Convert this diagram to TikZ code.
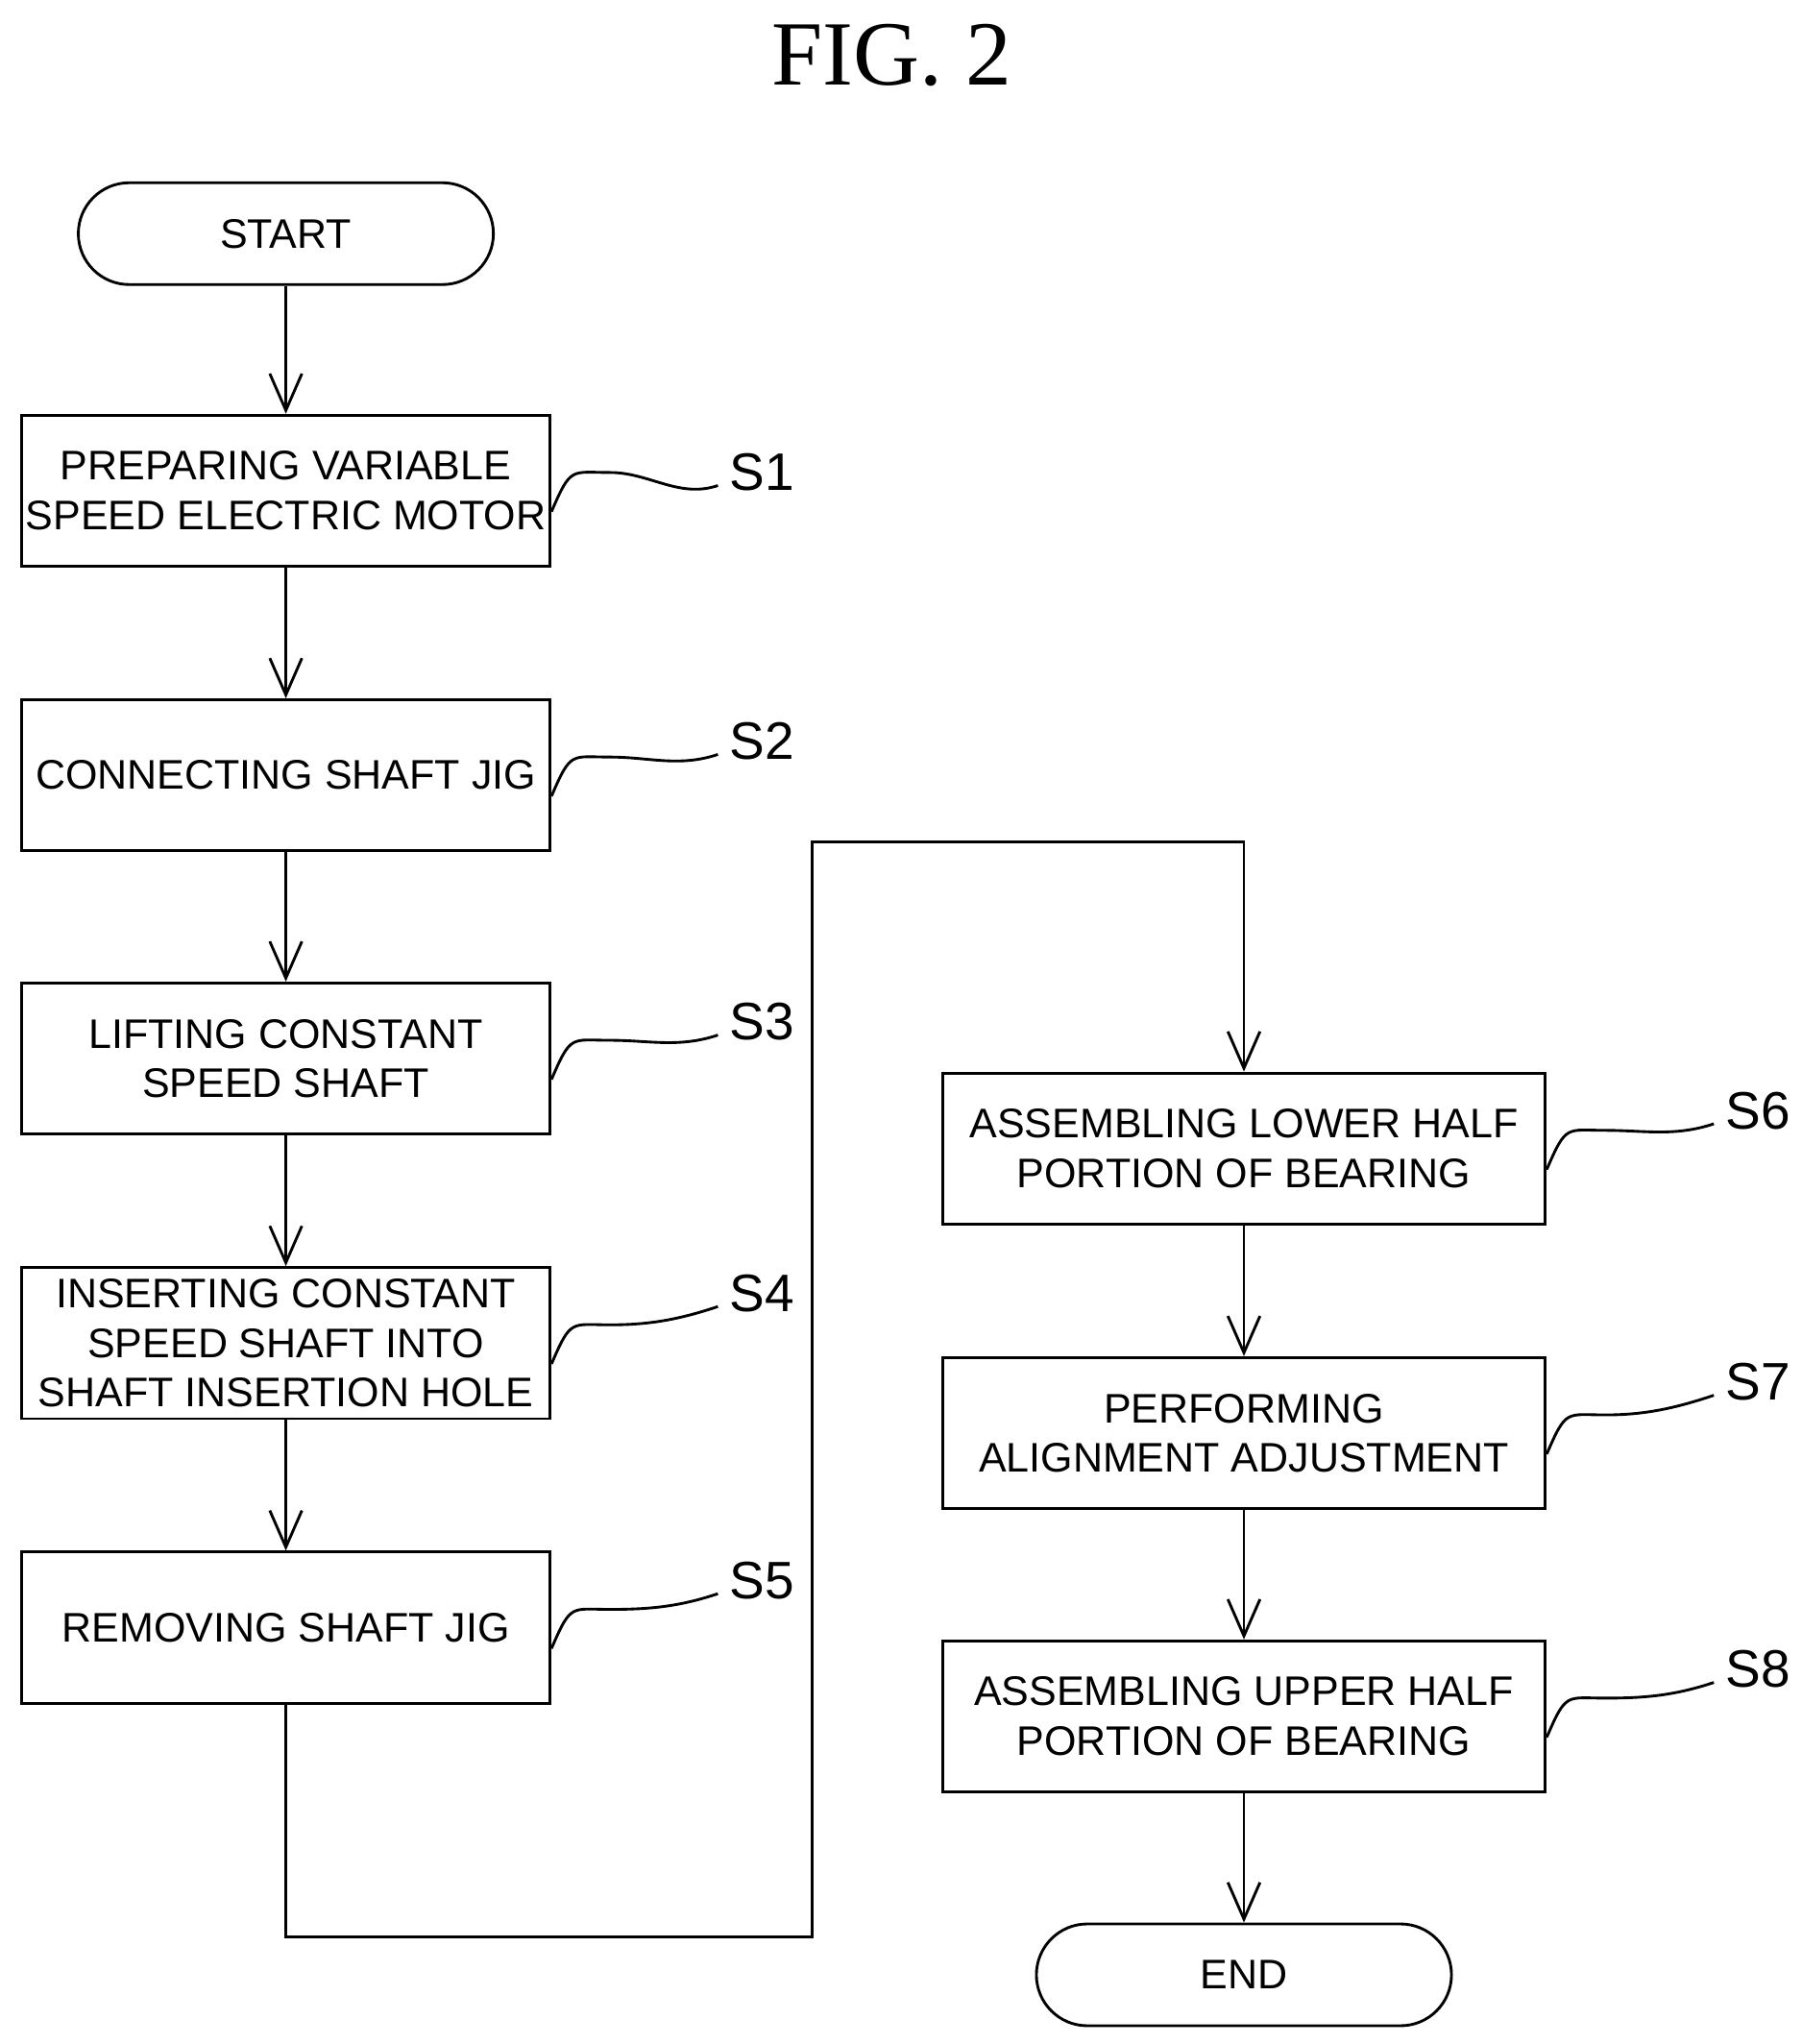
\documentclass[tikz,border=0pt]{standalone}
\usepackage{fontspec}
\setmainfont{Liberation Sans}
\newfontfamily\titlefont{Liberation Serif}
\usetikzlibrary{arrows.meta,calc}
\begin{document}
\begin{tikzpicture}[x=0.01cm,y=-0.01cm,line width=0.6pt,
 box/.style={draw,minimum width=407*0.01cm-0.6pt,minimum height=118*0.01cm-0.6pt,align=center,font=\fontsize{9}{10.8}\selectfont,inner sep=0pt},
 rbox/.style={box,minimum width=464*0.01cm-0.6pt},
 pill/.style={draw,rounded corners=39*0.01cm,minimum width=318*0.01cm,minimum height=78*0.01cm,font=\fontsize{9}{11}\selectfont},
 lab/.style={font=\fontsize{11.5}{14}\selectfont,anchor=west,inner sep=0pt},
 arr/.style={-{Straight Barb[length=8pt,width=7pt]}}]
\useasboundingbox (0,0) rectangle (1380,1566);
\node[font=\titlefont\fontsize{20}{24}\selectfont] (t) at (683,42) {FIG. 2};
\node[pill] (st) at (219,179) {START};
\node[box] (s1) at (219,376) {PREPARING VARIABLE\\SPEED ELECTRIC MOTOR};
\node[box] (s2) at (219,594) {CONNECTING SHAFT JIG};
\node[box] (s3) at (219,811) {LIFTING CONSTANT\\SPEED SHAFT};
\node[box] (s4) at (219,1029) {INSERTING CONSTANT\\SPEED SHAFT INTO\\SHAFT INSERTION HOLE};
\node[box] (s5) at (219,1247) {REMOVING SHAFT JIG};
\node[rbox] (s6) at (953,880) {ASSEMBLING LOWER HALF\\PORTION OF BEARING};
\node[rbox] (s7) at (953,1098) {PERFORMING\\ALIGNMENT ADJUSTMENT};
\node[rbox] (s8) at (953,1315) {ASSEMBLING UPPER HALF\\PORTION OF BEARING};
\node[pill] (en) at (953,1513) {END};
\node[lab] (l1) at (558,362) {S1};
\node[lab] (l2) at (558,568) {S2};
\node[lab] (l3) at (558,783) {S3};
\node[lab] (l4) at (558,991) {S4};
\node[lab] (l5) at (558,1211) {S5};
\node[lab] (l6) at (1321,851) {S6};
\node[lab] (l7) at (1321,1059) {S7};
\node[lab] (l8) at (1321,1279) {S8};
\draw[arr] (st) -- (s1);
\draw[arr] (s1) -- (s2);
\draw[arr] (s2) -- (s3);
\draw[arr] (s3) -- (s4);
\draw[arr] (s4) -- (s5);
\draw[arr] (s6) -- (s7);
\draw[arr] (s7) -- (s8);
\draw[arr] (s8) -- (en);
\coordinate (c1) at (219,1484);
\coordinate (c2) at (622,1484);
\coordinate (c3) at (622,645);
\coordinate (c4) at (953,645);
\draw[arr] (s5.south) -- (c1) -- (c2) -- (c3) -- (c4) -- (s6.north);
\foreach \s in {1,...,8}{
 \draw ($(s\s.east)+(0,16)$) .. controls +(15,-35) and +(-30,0) .. ($(s\s.east)+(45,-14)$)
   .. controls +(30,0) and +(-30,10) .. ($(l\s.west)+(-8,10)$);
}
\end{tikzpicture}
\end{document}
